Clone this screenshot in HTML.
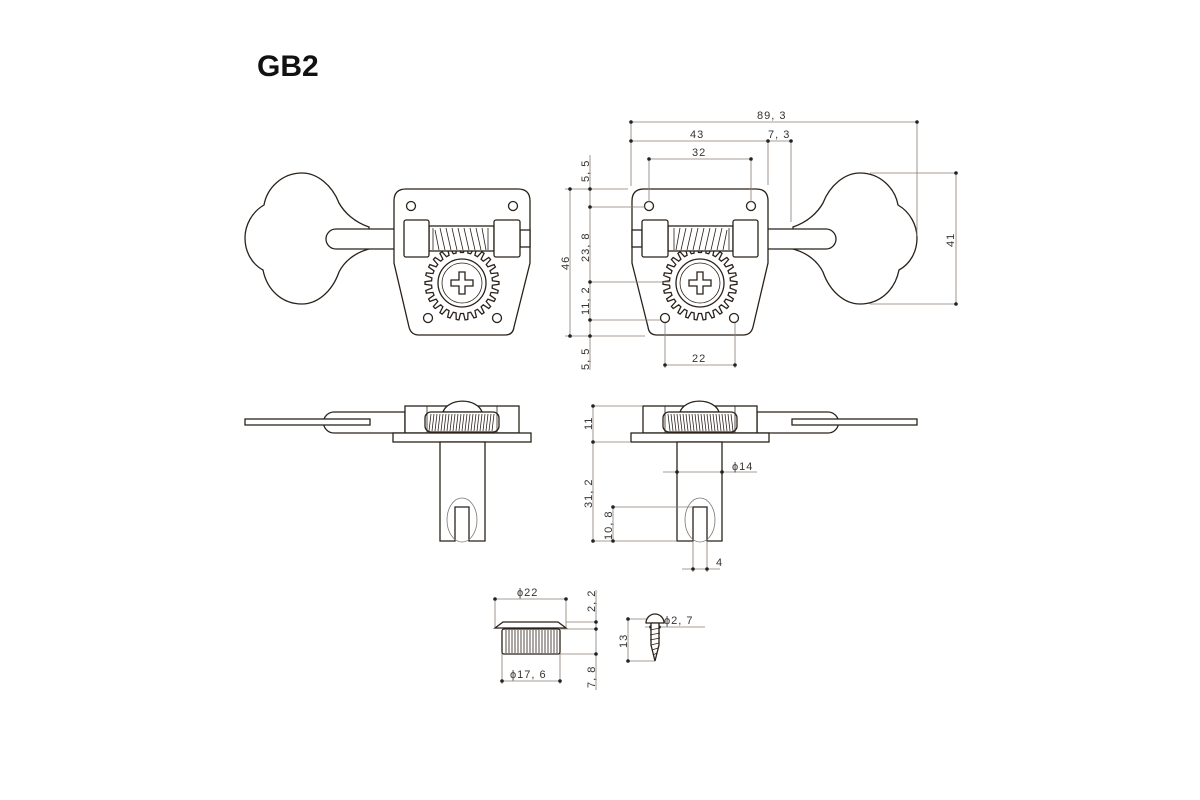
<!DOCTYPE html>
<html><head><meta charset="utf-8"><style>
html,body{margin:0;padding:0;background:#fff;width:1200px;height:800px;overflow:hidden}
svg{display:block}
.o{fill:#fff;stroke:#2a221a;stroke-width:1.3}
.t{fill:none;stroke:#2a221a;stroke-width:0.8}
.d{fill:none;stroke:#8a7c70;stroke-width:0.8}
.dot{fill:#222}
text{font-family:"Liberation Sans",sans-serif;font-size:11px;fill:#333;letter-spacing:1px}
</style></head><body>
<svg width="1200" height="800" viewBox="0 0 1200 800" xmlns="http://www.w3.org/2000/svg">
<text x="257" y="76" style="font-size:30px;font-weight:bold;fill:#111;letter-spacing:0">GB2</text>
<defs>
<g id="front">
 <path class="o" d="M793,227 C808,222 818,212 823,203 C830,185 845,173 860,173 C880,173 895,188 898,205 C910,212 917,225 917,238 C917,252 910,264 899,270 C895,290 880,304 860,304 C845,304 830,292 823,272 C818,262 808,253 793,249 Z"/>
 <path class="o" d="M757,229 L826,229 A10,10 0 0 1 826,249 L757,249 Z"/>
 <path class="o" d="M644,189 L756,189 Q768,189 768,201 L768,263 L753,327 Q751,335 743,335 L657,335 Q649,335 648,327 L632,263 L632,201 Q632,189 644,189 Z"/>
 <circle class="o" cx="649" cy="206" r="4.5"/><circle class="o" cx="751" cy="206" r="4.5"/>
 <circle class="o" cx="665" cy="318" r="4.5"/><circle class="o" cx="734" cy="318" r="4.5"/>
 <rect class="o" x="632" y="230" width="10" height="17"/>
 <path id="teeth" class="o" d=""/>
 <circle class="o" cx="700" cy="283" r="24"/>
 <circle class="t" cx="700" cy="283" r="20"/>
 <path class="o" d="M697,272 h6 v8 h8 v6 h-8 v8 h-6 v-8 h-8 v-6 h8 z"/>
 <rect class="o" x="668" y="226" width="65" height="25"/>
 <path class="t" d="M676,250 L680,228 M681,250 L686,228 M687,250 L692,228 M693,250 L698,228 M699,250 L704,228 M705,250 L710,228 M711,250 L716,228 M717,250 L722,228 M723,250 L727,230 M674,228 L674,250 M729,228 L729,250"/>
 <rect class="o" x="642" y="220" width="26" height="37" rx="2"/>
 <rect class="o" x="733" y="220" width="25" height="37" rx="2"/>
</g>
<g id="side">
 <path class="o" d="M757,412 L828,412 A10,10 0 0 1 828,433 L757,433 Z"/>
 <rect class="o" x="792" y="419" width="125" height="6"/>
 <rect class="o" x="643" y="406" width="114" height="27"/>
 <path class="o" d="M680,412 A20,14 0 0 1 719,412 Z"/>
 <rect class="o" x="663" y="412" width="74" height="20" rx="6"/>
 <path class="t" d="M668,414 L670,431 M671,414 L673,431 M674,414 L676,431 M677,414 L679,431 M680,414 L682,431 M683,414 L685,431 M686,414 L688,431 M689,414 L691,431 M692,414 L694,431 M695,414 L697,431 M698,414 L700,431 M701,414 L703,431 M704,414 L706,431 M707,414 L709,431 M710,414 L712,431 M713,414 L715,431 M716,414 L718,431 M719,414 L721,431 M722,414 L724,431 M725,414 L727,431 M728,414 L730,431 M731,414 L733,431"/>
 <line class="t" x1="665" y1="406" x2="665" y2="433"/><line class="t" x1="735" y1="406" x2="735" y2="433"/>
 <rect class="o" x="631" y="433" width="138" height="9"/>
 <path class="o" d="M677,442 L722,442 L722,541 L707,541 L707,507 L693,507 L693,541 L677,541 Z"/>
 <ellipse cx="700" cy="520" rx="15" ry="22" fill="none" stroke="#777" stroke-width="0.8"/>
</g>
</defs>
<use href="#front"/>
<use href="#front" transform="matrix(-1,0,0,1,1162,0)"/>
<use href="#side"/>
<use href="#side" transform="matrix(-1,0,0,1,1162,0)"/>

<g class="d">
 <path d="M631,122 H917 M631,122 V186 M917,122 V236 M631,141 H791 M768,141 V185 M791,141 V222 M649,159 H751 M649,159 V202 M751,159 V202"/>
 <path d="M870,173 H956 M870,304 H956 M956,173 V304"/>
 <path d="M570,189 V336 M565,189 H628 M590,155 V370 M590,207 H645 M590,282 H670 M590,320 H660 M565,336 H645"/>
 <path d="M665,323 V368 M735,323 V368 M665,365 H735"/>
 <path d="M593,406 H643 M593,442 H631 M593,406 V541 M593,541 H677 M663,472 H757 M613,507 H693 M613,507 V541 M613,541 H677 M693,541 V572 M707,541 V572 M682,569 H720"/>
 <path d="M495,599 H566 M495,599 V627 M566,599 V627 M502,632 V684 M560,632 V684 M502,681 H560 M566,622 H596 M560,629 H596 M560,654 H596 M596,590 V690"/>
 <path d="M628,619 H650 M628,661 H655 M628,619 V661 M645,627 H705"/>
</g>
<g class="dot">
 <circle cx="631" cy="122" r="1.8"/><circle cx="917" cy="122" r="1.8"/><circle cx="631" cy="141" r="1.8"/><circle cx="768" cy="141" r="1.8"/><circle cx="791" cy="141" r="1.8"/>
 <circle cx="649" cy="159" r="1.8"/><circle cx="751" cy="159" r="1.8"/><circle cx="956" cy="173" r="1.8"/><circle cx="956" cy="304" r="1.8"/>
 <circle cx="570" cy="189" r="1.8"/><circle cx="570" cy="336" r="1.8"/><circle cx="590" cy="189" r="1.8"/><circle cx="590" cy="207" r="1.8"/><circle cx="590" cy="282" r="1.8"/><circle cx="590" cy="320" r="1.8"/><circle cx="590" cy="336" r="1.8"/>
 <circle cx="665" cy="365" r="1.8"/><circle cx="735" cy="365" r="1.8"/>
 <circle cx="593" cy="406" r="1.8"/><circle cx="593" cy="442" r="1.8"/><circle cx="593" cy="541" r="1.8"/><circle cx="677" cy="472" r="1.8"/><circle cx="722" cy="472" r="1.8"/>
 <circle cx="613" cy="507" r="1.8"/><circle cx="613" cy="541" r="1.8"/><circle cx="693" cy="569" r="1.8"/><circle cx="707" cy="569" r="1.8"/>
 <circle cx="495" cy="599" r="1.8"/><circle cx="566" cy="599" r="1.8"/><circle cx="502" cy="681" r="1.8"/><circle cx="560" cy="681" r="1.8"/>
 <circle cx="596" cy="622" r="1.8"/><circle cx="596" cy="629" r="1.8"/><circle cx="596" cy="654" r="1.8"/>
 <circle cx="628" cy="619" r="1.8"/><circle cx="628" cy="661" r="1.8"/><circle cx="651" cy="627" r="1.8"/><circle cx="659" cy="627" r="1.8"/>
</g>
<path class="o" d="M495,628 L503,622 L558,622 L566,628 Z"/>
<rect class="o" x="502" y="629" width="58" height="25" rx="2"/>
<path class="t" d="M506,630V653 M509,630V653 M512,630V653 M515,630V653 M518,630V653 M521,630V653 M524,630V653 M527,630V653 M530,630V653 M533,630V653 M536,630V653 M539,630V653 M542,630V653 M545,630V653 M548,630V653 M551,630V653 M554,630V653 M557,630V653"/>
<path class="o" d="M646,623 A9,9 0 0 1 664,623 Z"/>
<path class="o" d="M651,623 L659,623 L659,645 L655,661 L651,645 Z"/>
<path class="t" d="M650,630 L660,628 M650,635 L660,633 M650,640 L660,638 M651,645 L659,643 M652,650 L658,648 M653,655 L657,653"/>
<text x="757" y="119">89, 3</text>
<text x="690" y="138">43</text>
<text x="768" y="138">7, 3</text>
<text x="692" y="156">32</text>
<text x="692" y="362">22</text>
<text x="732" y="470">ϕ14</text>
<text x="716" y="566">4</text>
<text x="517" y="596">ϕ22</text>
<text x="510" y="678">ϕ17, 6</text>
<text x="664" y="624">ϕ2, 7</text>
<text transform="translate(954,247) rotate(-90)">41</text>
<text transform="translate(569,270) rotate(-90)">46</text>
<text transform="translate(589,182) rotate(-90)">5, 5</text>
<text transform="translate(589,262) rotate(-90)">23, 8</text>
<text transform="translate(589,315) rotate(-90)">11, 2</text>
<text transform="translate(589,370) rotate(-90)">5, 5</text>
<text transform="translate(592,430) rotate(-90)">11</text>
<text transform="translate(592,508) rotate(-90)">31, 2</text>
<text transform="translate(612,540) rotate(-90)">10, 8</text>
<text transform="translate(595,612) rotate(-90)">2, 2</text>
<text transform="translate(595,688) rotate(-90)">7, 8</text>
<text transform="translate(627,648) rotate(-90)">13</text>
</svg>
<script>
(function(){var cx=700,cy=283,N=26,ro=37,ri=30.5,d="";
for(var i=0;i<N;i++){var a=i*2*Math.PI/N,s=Math.PI/N;
var pts=[[a-s*0.6,ri],[a-s*0.3,ro],[a+s*0.3,ro],[a+s*0.6,ri],[a+s*1.4,ri]];
pts.forEach(function(p,j){var x=(cx+p[1]*Math.cos(p[0])).toFixed(1),y=(cy+p[1]*Math.sin(p[0])).toFixed(1);d+=(i==0&&j==0?"M":"L")+x+","+y;});}
document.getElementById("teeth").setAttribute("d",d+"Z");})();
</script>
</body></html>
